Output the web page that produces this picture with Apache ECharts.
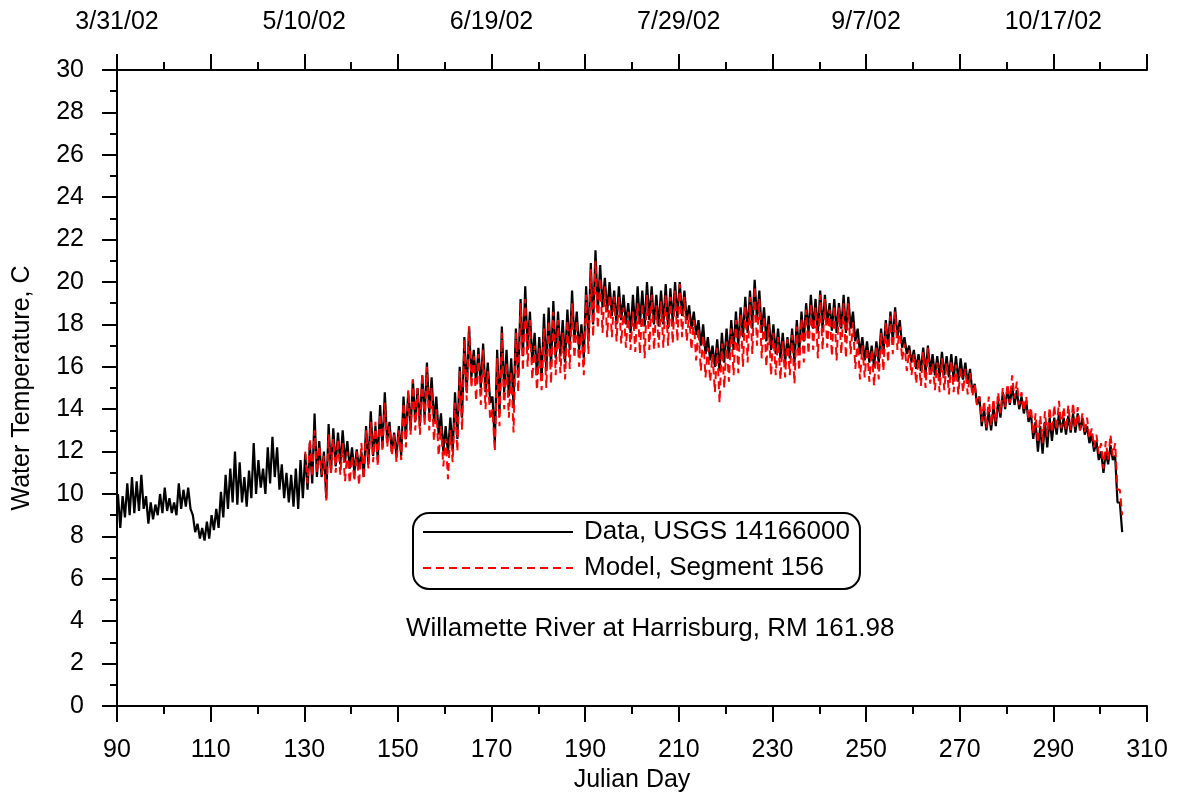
<!DOCTYPE html>
<html>
<head>
<meta charset="utf-8">
<script src="https://cdn.jsdelivr.net/npm/echarts@6/dist/echarts.min.js"></script>
<style>
html,body{margin:0;padding:0;background:#fff;}
#chart{width:1179px;height:798px;}
</style>
</head>
<body>
<div id="chart"></div>
<script>
// Julian day axis ticks / top date labels
const topLabelDays = [90, 130, 170, 210, 250, 290];
const topLabels = ['3/31/02', '5/10/02', '6/19/02', '7/29/02', '9/7/02', '10/17/02'];

// Observed data (USGS 14166000): daily high / low, days 90..304
const obsStartDay = 90;
const obsHi = [
  10.0, 9.9, 10.5, 10.8, 10.6, 10.9, 9.9, 9.6, 9.5, 10.0,
  10.3, 9.8, 9.6, 10.5, 10.2, 10.3, 9.0, 8.6, 8.4, 8.7,
  9.0, 9.3, 10.1, 10.9, 11.2, 12.0, 11.5, 10.8, 11.1, 12.4,
  11.6, 11.2, 12.2, 12.7, 12.2, 11.4, 11.0, 10.9, 11.2, 11.6,
  11.9, 12.4, 13.8, 12.5, 12.0, 13.3, 13.1, 12.9, 13.0, 12.5,
  12.2, 12.1, 12.0, 13.2, 13.9, 13.2, 14.2, 14.8, 13.4, 12.9,
  13.2, 14.6, 14.8, 15.4, 15.0, 15.6, 16.2, 15.5, 14.6, 13.8,
  13.2, 13.6, 14.8, 16.0, 17.4, 17.9, 16.8, 16.9, 17.1, 16.2,
  14.6, 16.8, 17.9, 16.8, 16.4, 17.8, 19.2, 19.8, 18.6, 17.6,
  17.4, 18.5, 18.8, 19.1, 18.6, 18.2, 18.7, 19.6, 18.6, 18.0,
  19.8, 20.9, 21.5, 20.8, 20.2, 20.0, 19.6, 19.8, 19.4, 19.0,
  19.4, 19.8, 19.6, 20.0, 19.8, 19.4, 19.6, 19.9, 19.7, 20.0,
  20.0, 19.6, 18.9, 18.6, 18.2, 18.0, 17.4, 17.0, 17.3, 17.6,
  17.8, 18.2, 18.6, 18.8, 19.3, 19.6, 20.1, 19.6, 18.8, 18.4,
  18.0, 17.8, 17.6, 17.4, 17.8, 18.2, 18.6, 19.0, 19.4, 19.2,
  19.6, 19.4, 19.0, 19.2, 19.0, 19.4, 19.3, 18.6, 17.8, 17.4,
  17.2, 17.0, 17.2, 17.8, 18.2, 18.6, 18.8, 18.2, 17.4, 17.0,
  16.8, 16.6, 16.9, 17.0, 16.6, 16.5, 16.7, 16.5, 16.6, 16.5,
  16.4, 16.2, 15.9, 15.2, 14.6, 14.0, 13.9, 14.1, 14.4, 14.8,
  15.0, 15.1, 14.9, 14.6, 14.4, 13.8, 13.4, 13.2, 13.4, 13.6,
  13.6, 13.8, 13.6, 13.7, 13.8, 13.8, 13.6, 13.2, 12.8, 12.5,
  12.0, 12.0, 12.3, 11.8, 9.6
];
const obsLo = [
  8.4, 8.9, 9.0, 9.1, 9.2, 9.3, 8.6, 8.8, 9.0, 9.1,
  9.2, 9.1, 9.0, 9.3, 9.4, 9.3, 8.2, 7.9, 7.8, 7.9,
  8.3, 8.4, 8.9, 9.3, 9.6, 9.5, 9.6, 9.4, 9.8, 10.0,
  10.3, 10.0, 10.5, 10.8, 10.2, 9.8, 9.6, 9.4, 9.3, 9.8,
  10.2, 10.5, 10.8, 10.8, 9.8, 11.0, 11.3, 11.4, 11.5, 11.2,
  11.0, 11.2, 10.8, 11.4, 11.8, 11.6, 12.2, 12.5, 12.0, 11.8,
  11.8, 12.6, 13.0, 13.4, 13.2, 13.6, 13.8, 13.4, 12.8, 12.0,
  11.9, 12.0, 12.6, 13.6, 14.8, 15.5, 15.2, 15.0, 14.8, 14.3,
  12.4, 13.8, 14.8, 14.6, 14.2, 15.5, 16.5, 16.8, 16.2, 15.6,
  15.4, 15.8, 16.0, 16.4, 16.5, 16.2, 16.8, 17.2, 16.8, 16.4,
  17.2, 18.0, 18.6, 18.8, 18.6, 18.4, 18.0, 18.2, 18.0, 17.6,
  17.8, 18.0, 17.9, 18.2, 18.0, 17.9, 18.0, 17.8, 18.1, 18.3,
  18.4, 18.2, 17.8, 17.5, 17.0, 16.6, 16.3, 16.0, 15.8, 16.2,
  16.4, 16.8, 17.0, 17.4, 17.6, 17.8, 18.2, 17.6, 17.2, 16.8,
  16.6, 16.4, 16.2, 16.4, 16.2, 16.6, 17.2, 17.6, 17.8, 17.6,
  17.8, 18.0, 17.7, 17.6, 17.8, 17.6, 17.8, 17.2, 16.6, 16.3,
  16.2, 16.0, 16.2, 16.6, 17.0, 17.2, 17.4, 16.9, 16.6, 16.2,
  15.9, 15.8, 15.7, 15.8, 15.6, 15.5, 15.6, 15.5, 15.4, 15.3,
  15.4, 15.2, 14.8, 14.2, 13.2, 13.0, 13.0, 13.2, 13.6, 14.0,
  14.2, 14.2, 14.0, 13.8, 13.4, 12.6, 12.0, 11.9, 12.2, 12.5,
  12.8, 12.9, 12.8, 12.9, 12.9, 13.0, 12.8, 12.4, 12.0, 11.6,
  11.0, 11.4, 11.6, 9.6, 8.2
];

// Model, Segment 156: daily high / low, days 130..304
const modStartDay = 130;
const modHi = [
  12.0, 12.6, 13.0, 12.3, 11.8, 12.8, 12.6, 12.6, 12.4, 12.0,
  11.8, 12.0, 12.4, 13.0, 13.4, 13.4, 13.8, 14.3, 13.2, 12.8,
  13.0, 14.3, 14.9, 15.4, 15.0, 15.7, 16.0, 15.0, 14.0, 13.2,
  12.6, 13.0, 14.3, 15.8, 17.3, 17.9, 16.5, 16.6, 16.8, 15.8,
  14.0, 16.4, 17.6, 16.2, 15.8, 17.6, 19.0, 19.2, 18.2, 17.0,
  16.9, 17.8, 18.2, 18.6, 18.2, 17.6, 18.2, 19.0, 18.2, 17.6,
  19.4, 20.6, 21.0, 20.2, 19.8, 19.4, 19.3, 19.3, 18.8, 18.6,
  18.6, 19.0, 19.0, 19.4, 19.4, 18.9, 19.1, 19.4, 19.3, 19.6,
  19.9, 19.3, 18.5, 18.2, 17.8, 17.5, 16.9, 16.6, 16.9, 17.1,
  17.2, 17.8, 18.2, 18.5, 18.9, 19.3, 19.8, 19.2, 18.4, 18.0,
  17.6, 17.4, 17.2, 17.3, 17.5, 17.9, 18.3, 18.7, 19.0, 18.8,
  19.4, 19.2, 18.7, 18.9, 18.8, 19.0, 19.0, 18.1, 17.3, 17.0,
  16.9, 16.8, 17.0, 17.6, 18.1, 18.4, 18.6, 17.9, 17.1, 16.8,
  16.6, 16.4, 16.7, 16.9, 16.2, 16.2, 16.4, 16.2, 16.3, 16.1,
  16.0, 15.9, 15.7, 15.2, 14.6, 14.4, 14.6, 14.5, 14.8, 15.0,
  15.2, 15.6, 15.3, 14.8, 14.6, 14.1, 13.8, 13.7, 13.9, 14.1,
  14.2, 14.4, 14.1, 14.2, 14.3, 14.1, 13.8, 13.6, 13.1, 12.8,
  12.4, 12.5, 12.8, 12.4, 10.2
];
const modLo = [
  10.5, 10.8, 11.0, 10.9, 9.7, 11.0, 11.0, 10.9, 10.6, 10.5,
  10.6, 10.4, 10.7, 11.2, 11.5, 11.3, 12.0, 12.2, 11.8, 11.5,
  11.6, 12.2, 12.8, 13.0, 12.8, 13.2, 13.0, 12.5, 11.8, 11.3,
  10.7, 11.5, 12.0, 13.0, 14.4, 15.0, 14.4, 14.2, 14.0, 13.5,
  12.0, 13.2, 14.0, 13.6, 12.9, 14.8, 15.8, 16.0, 15.4, 14.9,
  14.9, 15.0, 15.2, 15.6, 15.7, 15.4, 15.9, 16.4, 16.0, 15.6,
  16.6, 17.4, 17.8, 17.6, 17.4, 17.4, 17.2, 17.1, 16.9, 16.8,
  16.7, 16.6, 16.4, 16.8, 16.8, 16.9, 16.9, 17.0, 17.1, 17.2,
  17.4, 17.2, 16.8, 16.3, 15.8, 15.5, 15.3, 14.8, 14.3, 15.0,
  15.3, 15.6, 15.7, 16.0, 16.2, 16.6, 17.0, 16.4, 16.0, 15.6,
  15.6, 15.4, 15.5, 15.6, 15.2, 15.8, 16.2, 16.6, 16.8, 16.4,
  16.8, 16.9, 16.5, 16.3, 16.6, 16.4, 16.6, 15.9, 15.4, 15.5,
  15.3, 15.1, 15.4, 15.8, 16.2, 16.6, 16.8, 16.3, 15.8, 15.6,
  15.2, 15.1, 15.0, 15.2, 14.9, 14.8, 14.9, 14.7, 14.8, 14.7,
  14.8, 14.7, 14.6, 14.2, 13.4, 13.1, 13.2, 13.4, 13.8, 14.1,
  14.3, 14.5, 14.2, 13.9, 13.5, 12.8, 12.4, 12.4, 12.7, 12.9,
  13.0, 13.1, 13.0, 13.0, 13.1, 13.0, 12.9, 12.6, 12.2, 11.9,
  11.2, 11.6, 11.8, 10.2, 9.0
];

// Interleave daily high (afternoon) and low (night) readings into [day, value] pairs
function toSeries(startDay, hi, lo) {
  const out = [];
  for (let i = 0; i < hi.length; i++) {
    out.push([startDay + i + 0.2, hi[i]]);
    out.push([startDay + i + 0.7, lo[i]]);
  }
  return out;
}

const FONT = "'Liberation Sans', Arial, sans-serif";
const chart = echarts.init(document.getElementById('chart'), null, {renderer: 'canvas'});

const axisCommon = {
  type: 'value',
  min: 90, max: 310, interval: 20,
  axisLine: {show: true, onZero: false, lineStyle: {color: '#000', width: 2}},
  axisTick: {show: true, inside: false, length: 16, lineStyle: {color: '#000', width: 2}},
  minorTick: {show: true, splitNumber: 2, length: 8, lineStyle: {color: '#000', width: 2}},
  splitLine: {show: false},
  minorSplitLine: {show: false}
};

chart.setOption({
  backgroundColor: '#fff',
  animation: false,
  grid: {left: 117, right: 32, top: 70, bottom: 92, containLabel: false},
  title: {
    text: 'Willamette River at Harrisburg, RM 161.98',
    left: 406, top: 616, padding: 0,
    textStyle: {fontFamily: FONT, fontSize: 26, fontWeight: 'normal', color: '#000', lineHeight: 26}
  },
  legend: {
    orient: 'vertical',
    left: 413, top: 513,
    padding: [6, 10, 8, 9],
    itemWidth: 150, itemHeight: 14, itemGap: 10,
    borderColor: '#000', borderWidth: 2, borderRadius: 16,
    backgroundColor: '#fff',
    itemStyle: {opacity: 0},
    textStyle: {fontFamily: FONT, fontSize: 26, color: '#000', lineHeight: 26, padding: [0, 0, 0, 6]},
    data: ['Data, USGS 14166000', 'Model, Segment 156']
  },
  xAxis: [
    Object.assign({}, axisCommon, {
      position: 'bottom',
      name: 'Julian Day', nameLocation: 'middle', nameGap: 61,
      nameTextStyle: {fontFamily: FONT, fontSize: 25, color: '#000'},
      axisLabel: {margin: 32, fontFamily: FONT, fontSize: 25, color: '#000', lineHeight: 25}
    }),
    Object.assign({}, axisCommon, {
      position: 'top',
      axisLabel: {
        margin: 35, fontFamily: FONT, fontSize: 25, color: '#000', lineHeight: 25,
        formatter: function (v) {
          const k = topLabelDays.indexOf(v);
          return k >= 0 ? topLabels[k] : '';
        }
      }
    })
  ],
  yAxis: {
    type: 'value',
    min: 0, max: 30, interval: 2,
    name: 'Water Temperature, C', nameLocation: 'middle', nameGap: 82, nameRotate: 90,
    nameTextStyle: {fontFamily: FONT, fontSize: 25, color: '#000'},
    axisLine: {show: true, onZero: false, lineStyle: {color: '#000', width: 2}},
    axisTick: {show: true, inside: false, length: 15, lineStyle: {color: '#000', width: 2}},
    minorTick: {show: true, splitNumber: 2, length: 7, lineStyle: {color: '#000', width: 2}},
    axisLabel: {margin: 33, fontFamily: FONT, fontSize: 25, color: '#000'},
    splitLine: {show: false}
  },
  series: [
    {
      name: 'Data, USGS 14166000',
      type: 'line',
      xAxisIndex: 0,
      data: toSeries(obsStartDay, obsHi, obsLo),
      symbol: 'none',
      lineStyle: {color: '#000', width: 2.2},
      itemStyle: {color: '#000'},
      z: 2
    },
    {
      name: 'Model, Segment 156',
      type: 'line',
      xAxisIndex: 0,
      data: toSeries(modStartDay, modHi, modLo),
      symbol: 'none',
      lineStyle: {color: '#ff0000', width: 2, type: [8, 5]},
      itemStyle: {color: '#ff0000'},
      z: 3
    }
  ]
});
</script>
</body>
</html>
